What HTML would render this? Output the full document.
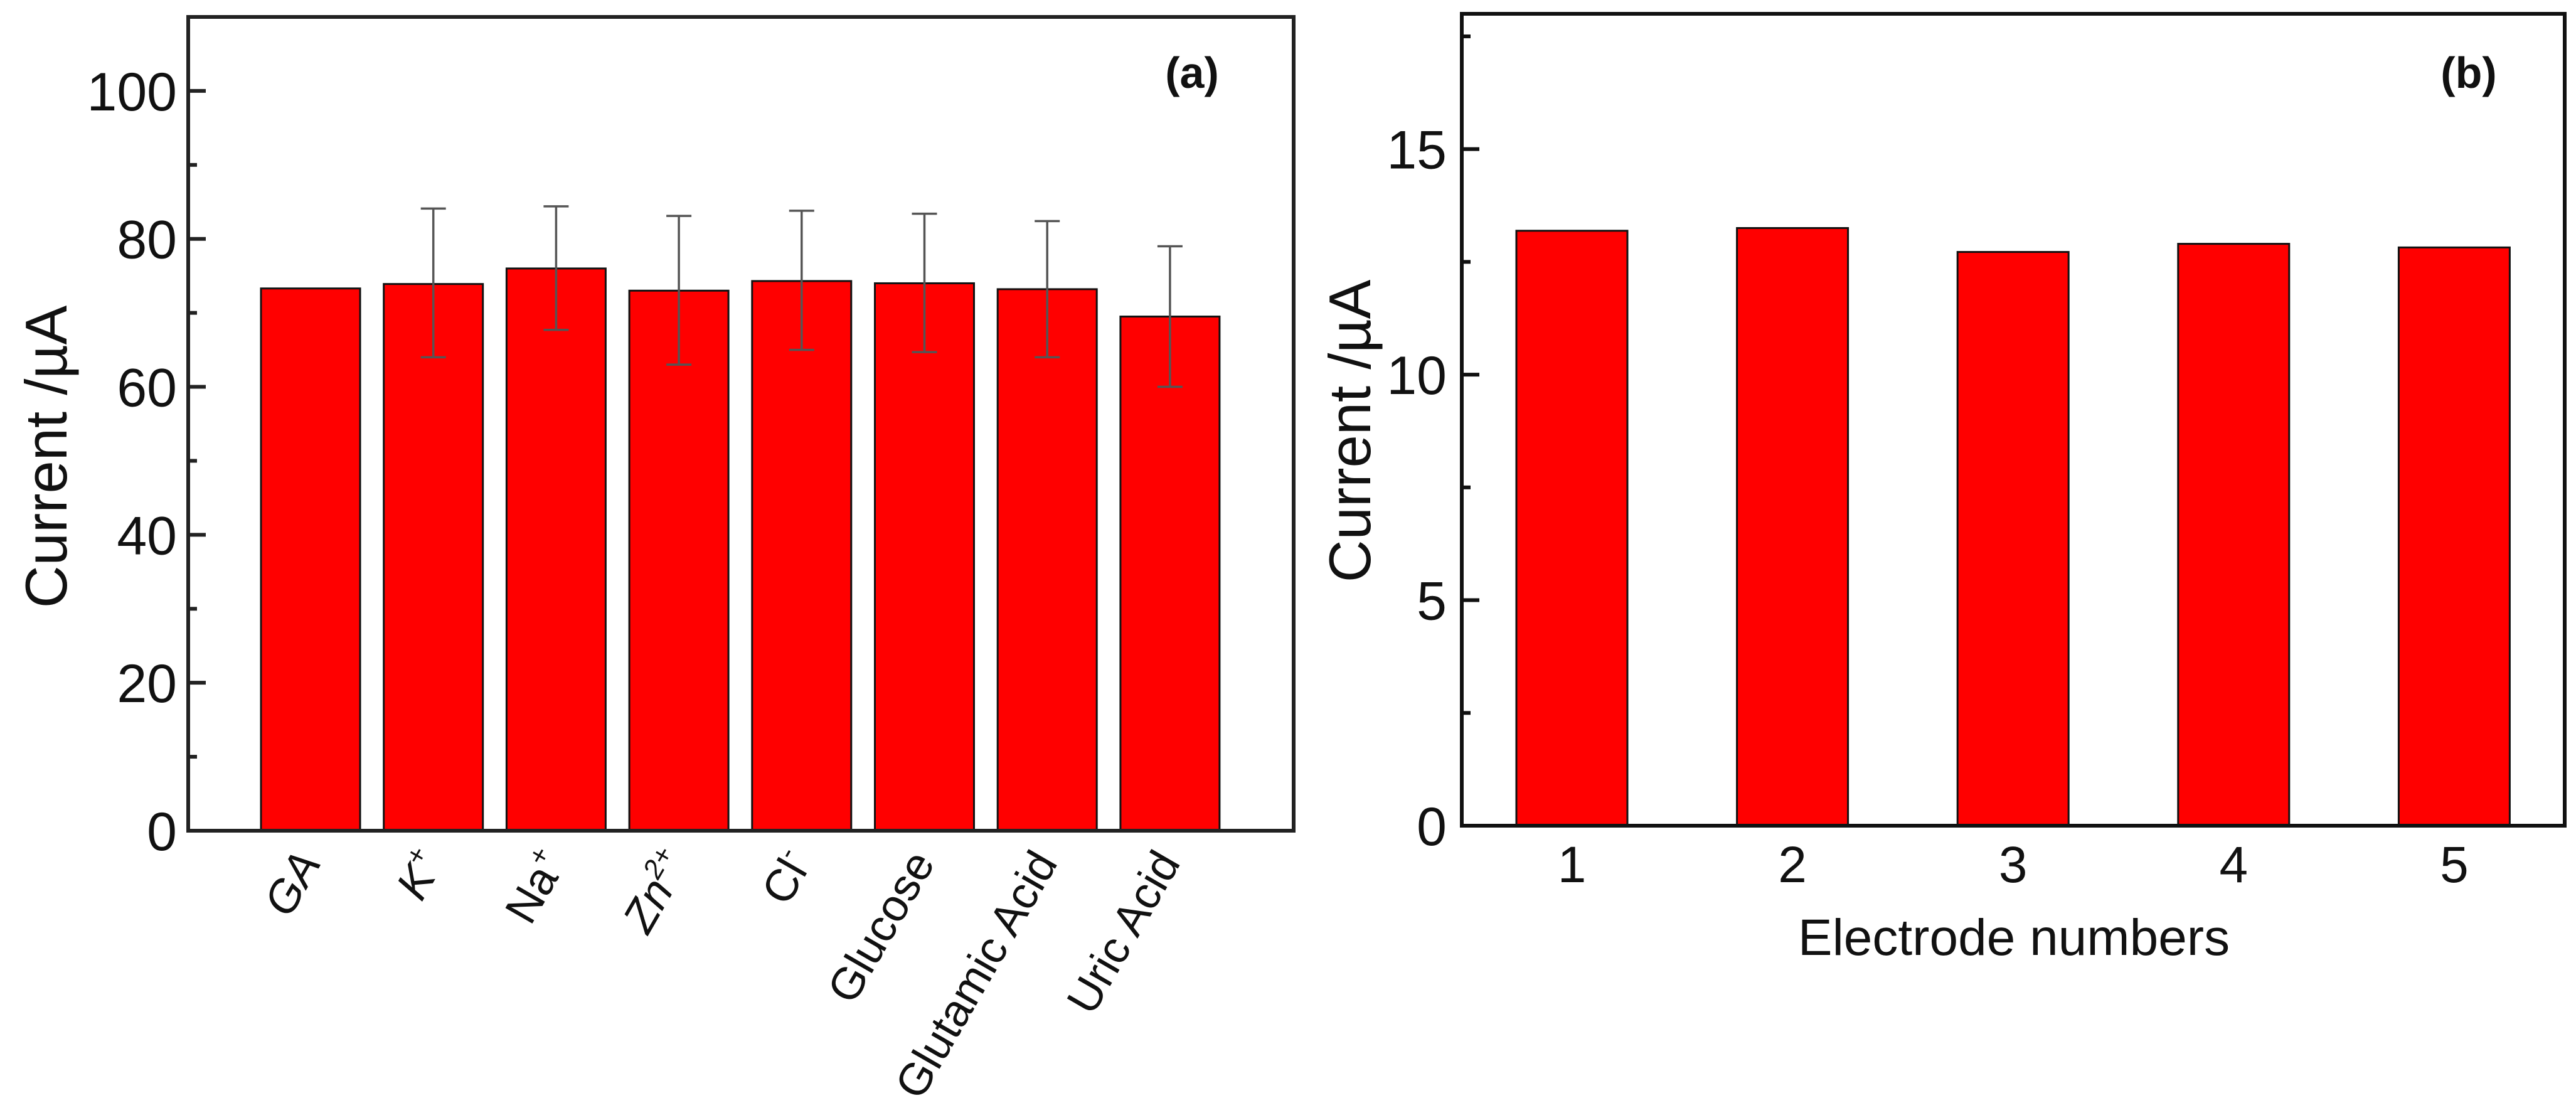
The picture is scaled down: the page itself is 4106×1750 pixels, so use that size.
<!DOCTYPE html>
<html><head><meta charset="utf-8">
<style>html,body{margin:0;padding:0;background:#fff}svg{display:block}</style>
</head><body>
<svg id="fig" width="4106" height="1750" viewBox="0 0 4106 1750" xmlns="http://www.w3.org/2000/svg" font-family="Liberation Sans, Arial, sans-serif">
<rect width="4106" height="1750" fill="#fff"/>
<g id="pa"></g>
<g id="pb"></g>
</svg>
<script>
const catsA = ["GA","K","Na","Zn","Cl","Glucose","Glutamic Acid","Uric Acid"];
const valsA = [73.3, 73.9, 76.0, 73.0, 74.3, 74.0, 73.2, 69.5];
const errHighA = [null, 84.1, 84.4, 83.1, 83.8, 83.4, 82.4, 79.0];
const errLowA = [null, 64.0, 67.7, 63.0, 65.0, 64.7, 64.0, 60.0];
const yTicksA = [0,20,40,60,80,100];
const catsB = ["1","2","3","4","5"];
const valsB = [13.19, 13.25, 12.72, 12.9, 12.82];
const yTicksB = [0,5,10,15];

const NS="http://www.w3.org/2000/svg";
function mk(parent,tag,attrs,text){const e=document.createElementNS(NS,tag);for(const k in attrs)e.setAttribute(k,attrs[k]);if(text!==undefined)e.textContent=text;parent.appendChild(e);return e;}

// Panel A
const A={L:300,R:2062,T:27,B:1324,ymax:110,c0:495,step:195.7,bw:158};
const ya=v=>A.B-(v/A.ymax)*(A.B-A.T);
const xa=i=>A.c0+i*A.step;
const pa=document.getElementById('pa');
catsA.forEach((c,i)=>{
  const r=mk(pa,'rect',{x:xa(i)-A.bw/2,y:ya(valsA[i]),width:A.bw,height:ya(0)-ya(valsA[i]),fill:'#ff0000',stroke:'#111','stroke-width':3});
  
  
  if(errHighA[i]!==null){
    const g=mk(pa,'g',{stroke:'#555','stroke-width':3.5});
    
    
    mk(g,'line',{x1:xa(i),x2:xa(i),y1:ya(errHighA[i]),y2:ya(errLowA[i])});
    mk(g,'line',{x1:xa(i)-20,x2:xa(i)+20,y1:ya(errHighA[i]),y2:ya(errHighA[i])});
    mk(g,'line',{x1:xa(i)-20,x2:xa(i)+20,y1:ya(errLowA[i]),y2:ya(errLowA[i])});
  }
});
const fa=mk(pa,'rect',{x:A.L,y:A.T,width:A.R-A.L,height:A.B-A.T,fill:'none',stroke:'#222','stroke-width':6});


for(let v=0;v<=A.ymax;v+=10){
  const major=v%20===0;
  mk(pa,'line',{x1:A.L,x2:A.L+(major?28:14),y1:ya(v),y2:ya(v),stroke:'#222','stroke-width':6});
}
yTicksA.forEach(v=>{
  const t=mk(pa,'text',{x:282,y:ya(v)+31,'font-size':86,'text-anchor':'end',fill:'#111'},String(v));
  
  
});
const italicA=[true,true,false,true,false,false,false,false];
const supA=["","+","+","2+","-","","",""];
catsA.forEach((c,i)=>{
  const x=xa(i)+18,y=1375;
  const t=mk(pa,'text',{x:x,y:y,'font-size':72,'text-anchor':'end',fill:'#111',transform:`rotate(-60 ${x} ${y})`,'font-style':italicA[i]?'italic':'normal'});
  
  
  t.appendChild(document.createTextNode(c));
  if(supA[i]){mk(t,'tspan',{'font-size':44,dy:-30},supA[i]);}
});
const yla=mk(pa,'text',{x:0,y:0,'font-size':94,'text-anchor':'middle',fill:'#111',transform:'translate(106 728) rotate(-90)'},'Current /µA');


const la=mk(pa,'text',{x:1900,y:140,'font-size':70,'font-weight':'bold','text-anchor':'middle',fill:'#111'},'(a)');



// Panel B
const B={L:2330,R:4088,T:22,B:1316,ymax:18,c0:2505.5,step:351.6,bw:177};
const yb=v=>B.B-(v/B.ymax)*(B.B-B.T);
const xb=i=>B.c0+i*B.step;
const pb=document.getElementById('pb');
catsB.forEach((c,i)=>{
  const r=mk(pb,'rect',{x:xb(i)-B.bw/2,y:yb(valsB[i]),width:B.bw,height:yb(0)-yb(valsB[i]),fill:'#ff0000',stroke:'#111','stroke-width':3});
  
  
  const t=mk(pb,'text',{x:xb(i),y:1406,'font-size':82,'text-anchor':'middle',fill:'#111'},c);
  
  
});
const fb=mk(pb,'rect',{x:B.L,y:B.T,width:B.R-B.L,height:B.B-B.T,fill:'none',stroke:'#111','stroke-width':6});


for(let v=0;v<=B.ymax;v+=2.5){
  const major=v%5===0;
  mk(pb,'line',{x1:B.L,x2:B.L+(major?28:14),y1:yb(v),y2:yb(v),stroke:'#111','stroke-width':6});
}
yTicksB.forEach(v=>{
  const t=mk(pb,'text',{x:2306,y:yb(v)+31,'font-size':86,'text-anchor':'end',fill:'#111'},String(v));
  
  
});
const ylb=mk(pb,'text',{x:0,y:0,'font-size':94,'text-anchor':'middle',fill:'#111',transform:'translate(2184 687) rotate(-90)'},'Current /µA');


const xlb=mk(pb,'text',{x:3210,y:1522,'font-size':82,'text-anchor':'middle',fill:'#111'},'Electrode numbers');


const lb=mk(pb,'text',{x:3935,y:140,'font-size':70,'font-weight':'bold','text-anchor':'middle',fill:'#111'},'(b)');


</script>
</body></html>
